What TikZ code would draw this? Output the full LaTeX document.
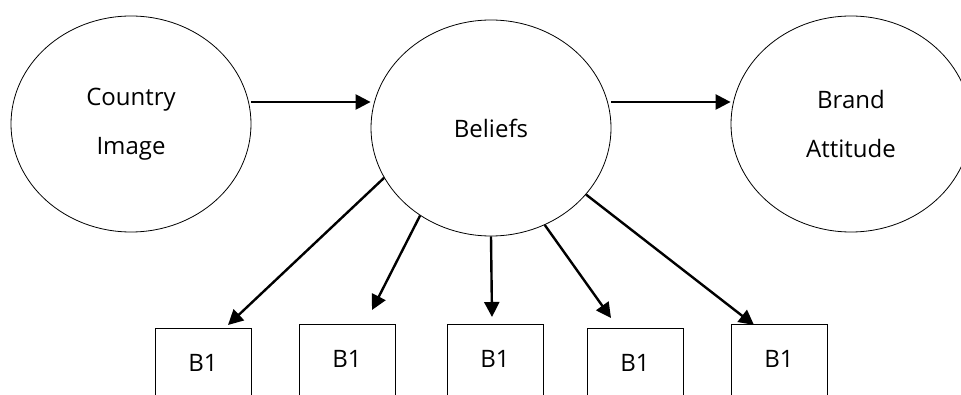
\documentclass[tikz,border=0pt]{standalone}
\usepackage{fontspec}
\setmainfont{Open Sans}
\usetikzlibrary{shapes.geometric,arrows.meta,calc}
\begin{document}
\begin{tikzpicture}[x=1pt,y=1pt,
  txt/.style={font=\fontsize{24}{49}\selectfont, align=center},
  latent/.style={ellipse, draw, line width=0.8pt, minimum width=240pt, minimum height=216pt, inner sep=0pt, txt},
  itembox/.style={rectangle, draw, line width=0.8pt, minimum width=96pt, minimum height=110pt, anchor=north, inner sep=0pt},
  itemlabel/.style={txt, inner sep=0pt},
  arr/.style={line width=2.4pt, -{Triangle[length=15pt,width=15pt]}}]
\useasboundingbox (0,0) rectangle (961,394);
\clip (0,0) rectangle (961,394);

% latent constructs
\node[latent] (ci)  at (131,270) {Country\\Image};
\node[latent] (bel) at (491,266) {Beliefs};
\node[latent] (ba)  at (851,270) {Brand\\Attitude};

% indicator boxes (open at the page bottom)
\node[itembox] (b1) at (203,66) {};
\node[itembox] (b2) at (347,70) {};
\node[itembox] (b3) at (495,70) {};
\node[itembox] (b4) at (635,66) {};
\node[itembox] (b5) at (779,70) {};
\foreach \i in {1,...,5}{
  \node[itemlabel] (t\i) at ($(b\i.north)+(0,-35)$) {B1};
}

% structural paths
\draw[arr] ($(ci.east)+(0,22)$) coordinate (p1) -- (p1 -| bel.west);
\draw[arr] ($(bel.east)+(0,26)$) coordinate (p2) -- (p2 -| ba.west);

% loadings
\draw[arr] (bel.205.7) -- ($(b1.north)+(25,3)$);
\draw[arr] (bel.231.1) -- ($(b2.north)+(25,14)$);
\draw[arr] (bel.270)   -- ($(b3.north)+(-3,7)$);
\draw[arr] (bel.299.2) -- ($(b4.north)+(-24,10)$);
\draw[arr] (bel.325.5) -- ($(b5.north)+(-25,-1)$);
\end{tikzpicture}
\end{document}
